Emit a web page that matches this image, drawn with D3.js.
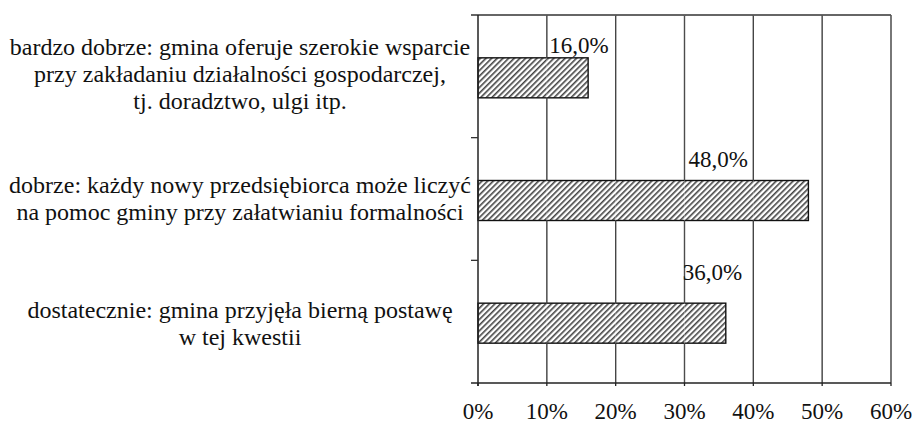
<!DOCTYPE html>
<html>
<head>
<meta charset="utf-8">
<script src="https://cdn.jsdelivr.net/npm/d3@7"></script>
<style>
  html, body { margin: 0; padding: 0; background: #fff; }
  #wrap { position: relative; width: 916px; height: 423px; overflow: hidden; }
  svg { display: block; position: absolute; left: 0; top: 0; }
  .lbl { position: absolute; white-space: nowrap; font-family: 'Liberation Serif', 'Times New Roman', Times, serif; color: #111; }
</style>
</head>
<body>
<div id="wrap"><svg id="chart" width="916" height="423"></svg></div>
<script>
// ---- data ----
const categories = [
  ["bardzo dobrze: gmina oferuje szerokie wsparcie", "przy zakładaniu działalności gospodarczej,", "tj. doradztwo, ulgi itp."],
  ["dobrze: każdy nowy przedsiębiorca może liczyć", "na pomoc gminy przy załatwianiu formalności"],
  ["dostatecznie: gmina przyjęła bierną postawę", "w tej kwestii"]
];
const values = [16.0, 48.0, 36.0];
const valueLabels = ["16,0%", "48,0%", "36,0%"];
const xTicks = [0, 10, 20, 30, 40, 50, 60];
const xTickLabels = ["0%", "10%", "20%", "30%", "40%", "50%", "60%"];

// ---- layout ----
const svg = d3.select("#chart");
const wrap = d3.select("#wrap");
const pLeft = 478, pRight = 891, pTop = 15, pBottom = 383;

const x = d3.scaleLinear().domain([0, 60]).range([pLeft, pRight]);
const y = d3.scaleBand().domain(d3.range(categories.length)).range([pTop, pBottom]).paddingInner(0).paddingOuter(0);

// HTML text helper: place text so its baseline sits at by
function label(text, px, by, size, anchor) {
  const d = wrap.append("div").attr("class", "lbl")
    .style("font-size", size + "px")
    .style("line-height", size + "px")
    .style("top", (by - 0.8375 * size) + "px")
    .text(text);
  if (anchor === "middle") {
    d.style("left", px + "px").style("transform", "translateX(-50%)");
  } else {
    d.style("left", px + "px");
  }
  return d;
}

// hatch pattern
const defs = svg.append("defs");
const pat = defs.append("pattern")
  .attr("id", "hatch").attr("patternUnits", "userSpaceOnUse")
  .attr("width", 4).attr("height", 4)
  .attr("patternTransform", "rotate(45)");
pat.append("rect").attr("width", 4).attr("height", 4).attr("fill", "#fff");
pat.append("rect").attr("x", 0).attr("y", 0).attr("width", 1.6).attr("height", 4).attr("fill", "#444");

// gridlines
svg.append("g").selectAll("line").data(xTicks.slice(1)).join("line")
  .attr("x1", d => x(d)).attr("x2", d => x(d))
  .attr("y1", pTop).attr("y2", pBottom)
  .attr("stroke", "#111").attr("stroke-width", 1.3);

// top border
svg.append("line").attr("x1", pLeft - 7).attr("x2", pRight).attr("y1", pTop).attr("y2", pTop)
  .attr("stroke", "#333").attr("stroke-width", 1.3);

// bars
const barH = 40, barShift = 1.5;
const bandC = i => y(i) + y.bandwidth() / 2;
const barTop = i => bandC(i) + barShift - barH / 2;
svg.append("g").selectAll("rect").data(values).join("rect")
  .attr("x", x(0))
  .attr("y", (d, i) => barTop(i))
  .attr("width", d => x(d) - x(0))
  .attr("height", barH)
  .attr("fill", "url(#hatch)")
  .attr("stroke", "#111").attr("stroke-width", 1.4);

// faint gridlines through bars
svg.append("g").selectAll("line").data(xTicks.slice(1)).join("line")
  .attr("x1", d => x(d)).attr("x2", d => x(d))
  .attr("y1", pTop).attr("y2", pBottom)
  .attr("stroke", "#fff").attr("stroke-opacity", 0.25).attr("stroke-width", 1);

// left axis
svg.append("line").attr("x1", pLeft).attr("x2", pLeft).attr("y1", pTop).attr("y2", pBottom + 3)
  .attr("stroke", "#222").attr("stroke-width", 1.5);
svg.append("g").selectAll("line").data(d3.range(1, categories.length)).join("line")
  .attr("x1", pLeft - 7).attr("x2", pLeft)
  .attr("y1", i => y(i)).attr("y2", i => y(i))
  .attr("stroke", "#333").attr("stroke-width", 1.3);

// bottom axis
svg.append("line").attr("x1", pLeft - 7).attr("x2", pRight).attr("y1", pBottom).attr("y2", pBottom)
  .attr("stroke", "#222").attr("stroke-width", 1.5);
svg.append("g").selectAll("line").data(xTicks).join("line")
  .attr("x1", d => x(d)).attr("x2", d => x(d))
  .attr("y1", pBottom).attr("y2", pBottom + 3)
  .attr("stroke", "#222").attr("stroke-width", 1.3);

// tick labels
xTicks.forEach((t, i) => label(xTickLabels[i], x(t), 419, 23, "middle"));

// value labels (left start / baseline) relative to bar end / bar top
const labelOffset = [[-39, -5], [-120, -13.5], [-43, -23]];
values.forEach((v, i) => label(valueLabels[i], x(v) + labelOffset[i][0], barTop(i) + labelOffset[i][1], 23, "start"));

// category labels
const lineH = 27;
const catOffset = [6, 7.5, 10];
const catX = 240;
categories.forEach((lines, i) => {
  const n = lines.length;
  const mid = bandC(i) + catOffset[i];
  lines.forEach((t, j) => label(t, catX, mid + (j - (n - 1) / 2) * lineH, 24, "middle"));
});
</script>
</body>
</html>
